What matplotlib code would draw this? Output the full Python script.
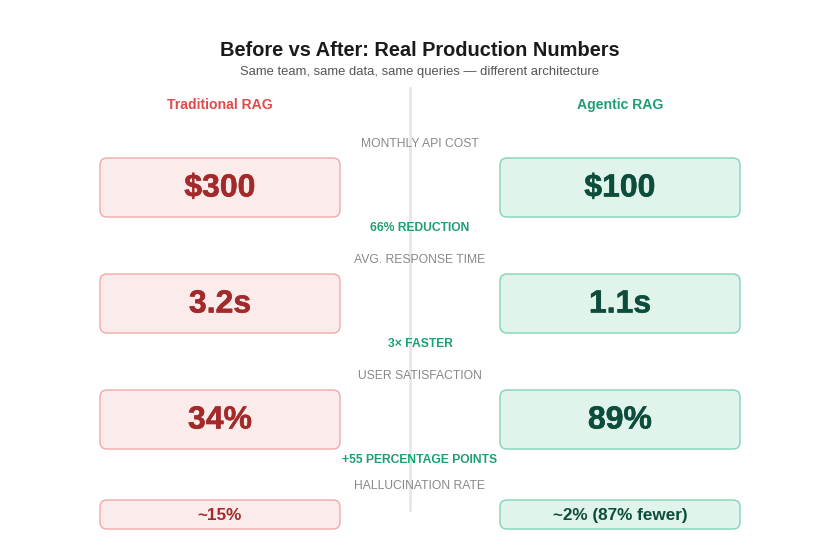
import matplotlib.pyplot as plt
import matplotlib.patheffects as pe
from matplotlib.patches import FancyBboxPatch

plt.rcParams['font.family'] = ['Liberation Sans', 'DejaVu Sans']

# data
metrics = ["MONTHLY API COST", "AVG. RESPONSE TIME", "USER SATISFACTION", "HALLUCINATION RATE"]
before_vals = ["$300", "3.2s", "34%", "~15%"]
after_vals = ["$100", "1.1s", "89%", "~2% (87% fewer)"]
changes = ["66% REDUCTION", "3× FASTER", "+55 PERCENTAGE POINTS", ""]

red_fill, red_edge, red_txt = "#fcebeb", "#f0a9a9", "#a32a2a"
grn_fill, grn_edge, grn_txt = "#e0f4ec", "#7fd4b2", "#0d4d3c"

fig = plt.figure(figsize=(8.4, 5.6), dpi=100)
ax = fig.add_axes([0, 0, 1, 1])
ax.set_xlim(0, 840)
ax.set_ylim(560, 0)
ax.axis("off")

ax.text(420, 50, "Before vs After: Real Production Numbers", ha="center", va="center",
        fontsize=14.4, fontweight="bold", color="#1a1a1a")
ax.text(420, 72, "Same team, same data, same queries — different architecture", ha="center",
        va="center", fontsize=9.4, color="#555555")

ax.text(220, 105, "Traditional RAG", ha="center", va="center", fontsize=10.1,
        fontweight="bold", color="#e04a4a")
ax.text(620, 105, "Agentic RAG", ha="center", va="center", fontsize=10.1,
        fontweight="bold", color="#1f9e70")

# divider
ax.plot([410, 410], [88, 510], color="#e9e7e1", lw=2, zorder=0)

row_top = [158, 274, 390, 500]
row_h = [59, 59, 59, 29]
for i, m in enumerate(metrics):
    y0 = row_top[i]
    h = row_h[i]
    ax.text(420, y0 - 14, m, ha="center", va="center", fontsize=8.7, color="#888888")
    big = h > 40
    fs = 23 if big else 12.3
    for x0, fill, edge, col, val in [(100, red_fill, red_edge, red_txt, before_vals[i]),
                                     (500, grn_fill, grn_edge, grn_txt, after_vals[i])]:
        box = FancyBboxPatch((x0, y0), 240, h, boxstyle="round,pad=0,rounding_size=7",
                             facecolor=fill, edgecolor=edge, lw=1, zorder=2)
        ax.add_patch(box)
        t = ax.text(x0 + 120, y0 + h / 2 + 1, val, ha="center", va="center", fontsize=fs,
                    fontweight="bold", color=col, zorder=3)
        if big:
            t.set_path_effects([pe.withStroke(linewidth=0.4, foreground=col)])
    if changes[i]:
        ax.text(420, y0 + h + 11, changes[i], ha="center", va="center", fontsize=8.7,
                fontweight="bold", color="#1f9e70")

fig.savefig("out.png", dpi=100, facecolor="white")
